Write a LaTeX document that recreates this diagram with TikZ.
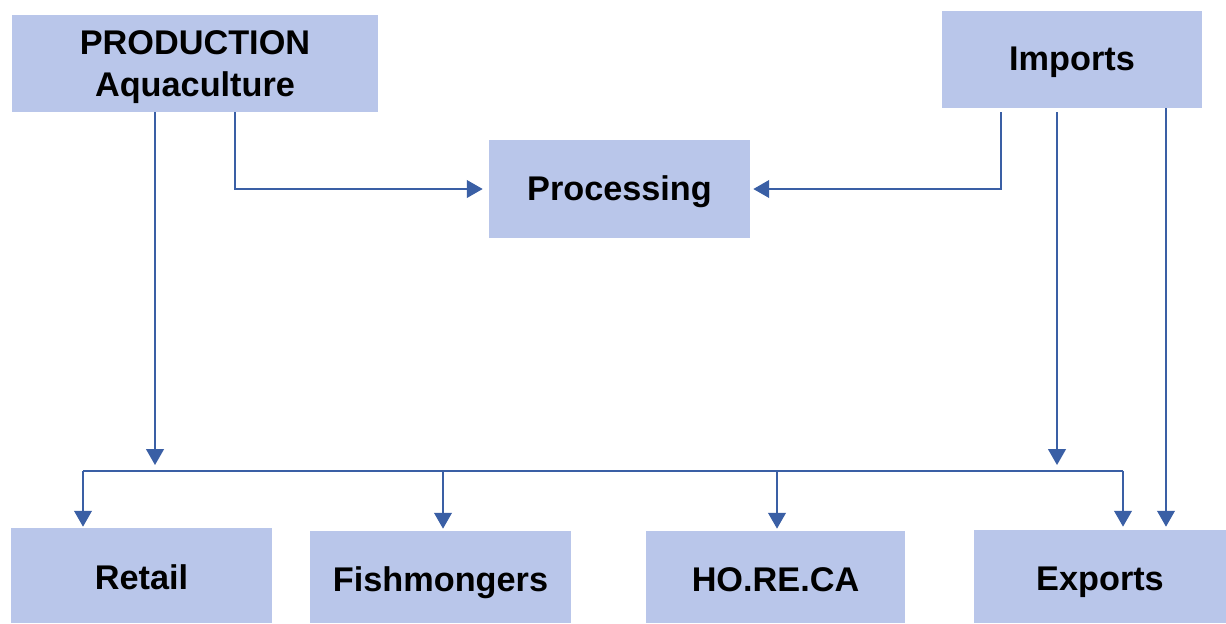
\documentclass[tikz,border=0pt]{standalone}
\usepackage{fontspec}
\setmainfont{Liberation Sans}
\usepackage{xcolor}
\usetikzlibrary{positioning,calc,arrows.meta}
\definecolor{boxfill}{HTML}{B9C6EA}
\definecolor{wireblue}{HTML}{3A5FA5}

\tikzset{
  chainbox/.style={fill=boxfill, inner sep=0pt, align=center, text depth=0pt,
    font=\fontsize{19.5}{24}\selectfont\bfseries},
  onebox/.style={chainbox, text height=13pt},
  outletbox/.style={chainbox, text height=16pt, minimum height=1.84cm},
  wire/.style={wireblue, line width=1.1pt},
  flow/.style={wire, -{Triangle[width=10pt,length=9pt]}}
}

\begin{document}
\begin{tikzpicture}[x=0.02cm, y=-0.02cm]
    % canvas
    \fill[white] (0,0) rectangle (1226,623);
    \useasboundingbox (0,0) rectangle (1226,623);

    % Top row
    \node[chainbox, minimum width=7.32cm, minimum height=1.94cm] (prod) at (195,63.5) {PRODUCTION\\Aquaculture};
    \node[onebox, minimum width=5.2cm, minimum height=1.94cm] (imports) at (1072,59.5) {Imports};
    \node[onebox, minimum width=5.22cm, minimum height=1.96cm] (proc) at (619.5,189) {Processing};

    % Bottom row
    \node[outletbox, minimum width=5.22cm, minimum height=1.9cm] (retail) at (141.5,575.5) {Retail};
    \node[outletbox, minimum width=5.22cm] (fish) at (440.5,577) {Fishmongers};
    \node[outletbox, minimum width=5.18cm] (horeca) at (775.5,577) {HO.RE.CA};
    \node[outletbox, minimum width=5.04cm, minimum height=1.86cm] (exports) at (1100,576.5) {Exports};

    % Into processing
    \draw[flow] ([xshift=0.8cm]prod.south) |- ([xshift=-0.12cm]proc.west);
    \draw[flow] ([xshift=-1.42cm,yshift=-0.08cm]imports.south) |- ([xshift=0.06cm]proc.east);

    % Distribution bus
    \coordinate (busL) at (83,471);
    \coordinate (busR) at (1123,471);
    \draw[wire] (busL) -- (busR);
    \draw[flow] ([xshift=-0.8cm]prod.south) -- ([xshift=-0.8cm,yshift=0.12cm]prod.south |- busL);
    \draw[flow] ([xshift=-0.3cm,yshift=-0.08cm]imports.south) -- ([xshift=-0.3cm,yshift=0.12cm]imports.south |- busR);

    % Bus to outlets
    \draw[flow] (busL) -- ([yshift=0.02cm]busL |- retail.north);
    \draw[flow] ([xshift=0.05cm]fish.north |- busL) -- ([xshift=0.05cm,yshift=0.04cm]fish.north);
    \draw[flow] ([xshift=0.03cm]horeca.north |- busL) -- ([xshift=0.03cm,yshift=0.04cm]horeca.north);
    \draw[flow] (busR) -- ([yshift=0.06cm]busR |- exports.north);
    \draw[flow] ([xshift=1.88cm]imports.south) -- ([xshift=1.88cm,yshift=0.06cm]imports.south |- exports.north);
\end{tikzpicture}
\end{document}
